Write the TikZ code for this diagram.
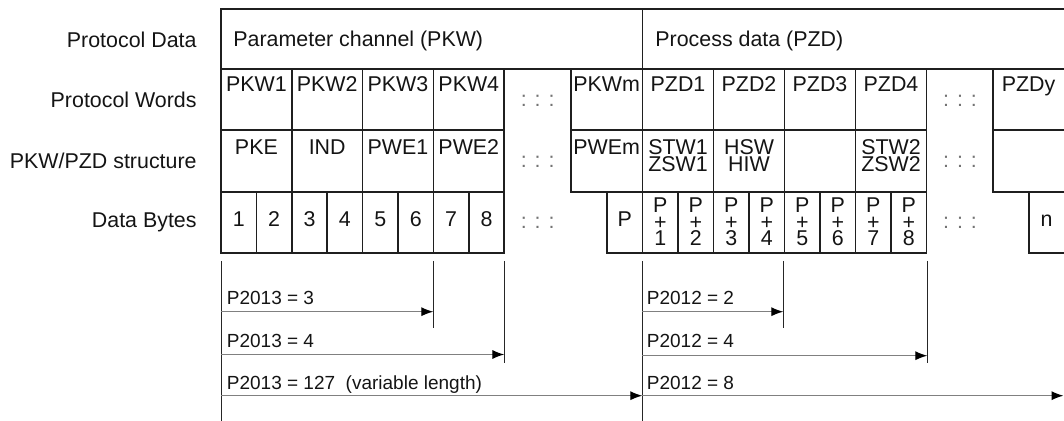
\documentclass[tikz,border=0pt]{standalone}
\usepackage{fontspec}
\setmainfont{Liberation Sans}
\usepackage{tikz}
\usetikzlibrary{positioning,arrows.meta}

\tikzset{
  grid/.style={line width=0.8pt, draw=black!88},
  lbl/.style={font=\fontsize{10.7}{12.8}\selectfont, text=black!92, inner sep=0pt},
  dotrow/.style={font=\fontsize{10.7}{12.8}\selectfont, text=black!55, inner sep=0pt},
  stack/.style={font=\fontsize{10.7}{8.25}\selectfont, text=black!92, inner sep=0pt, align=center},
  pair/.style={font=\fontsize{10.7}{8.5}\selectfont, text=black!92, inner sep=0pt, align=center},
  lenlbl/.style={font=\fontsize{9.5}{11}\selectfont, text=black!92, inner sep=0pt, anchor=base west},
  guide/.style={line width=0.5pt, draw=black!85},
  span/.style={line width=0.65pt, draw=black!50, -{Latex[length=6pt,width=4.6pt,color=black]}}
}

\begin{document}
\begin{tikzpicture}[x=0.5pt, y=-0.5pt]

\useasboundingbox (0,0) rectangle (1064,421);
\clip (0,0) rectangle (1064,421);

% Row labels
\node[lbl, anchor=east] (lab-data) at (197,40) {Protocol Data};
\node[lbl, anchor=east] (lab-words) at (197,99.5) {Protocol Words};
\node[lbl, anchor=east] (lab-struct) at (197,161) {PKW/PZD structure};
\node[lbl, anchor=east] (lab-bytes) at (197,222) {Data Bytes};

% Protocol data
\draw[grid] (221,9) rectangle (642.5,69);
\draw[grid] (642.5,9) rectangle (1075,69);
\node[lbl, anchor=base west] (pkw) at (233,47) {Parameter channel (PKW)};
\node[lbl, anchor=base west] (pzd) at (655,47) {Process data (PZD)};

% Parameter channel words and structure
\foreach \i/\w/\s in {1/PKW1/PKE, 2/PKW2/IND, 3/PKW3/PWE1, 4/PKW4/PWE2} {
  \draw[grid] ({221+70.8*(\i-1)},69) rectangle ({221+70.8*\i},130);
  \draw[grid] ({221+70.8*(\i-1)},130) rectangle ({221+70.8*\i},192);
  \node[lbl, anchor=base] (kw\i) at ({221+70.8*(\i-0.5)},92) {\w};
  \node[lbl, anchor=base] (ks\i) at ({221+70.8*(\i-0.5)},155) {\s};
}
\draw[grid] (571,69) rectangle (642.5,130);
\draw[grid] (571,130) rectangle (642.5,192);
\node[lbl, anchor=base] (kwm) at (606.7,92) {PKWm};
\node[lbl, anchor=base] (ksm) at (606.7,155) {PWEm};

% Process data words and structure
\foreach \i/\w in {1/PZD1, 2/PZD2, 3/PZD3, 4/PZD4} {
  \draw[grid] ({642.5+71*(\i-1)},69) rectangle ({642.5+71*\i},130);
  \draw[grid] ({642.5+71*(\i-1)},130) rectangle ({642.5+71*\i},192);
  \node[lbl, anchor=base] (zw\i) at ({642.5+71*(\i-0.5)},92) {\w};
}
\node[pair] (zs1) at (678,156) {STW1\\ZSW1};
\node[pair] (zs2) at (749,156) {HSW\\HIW};
\node[pair] (zs4) at (891,156) {STW2\\ZSW2};
\draw[grid] (993,69) rectangle (1075,130);
\draw[grid] (993,130) rectangle (1075,192);
\node[lbl, anchor=base] (zwy) at (1028.5,92) {PZDy};

% Data bytes
\foreach \j in {1,...,8} {
  \draw[grid] ({221+35.4*(\j-1)},192) rectangle ({221+35.4*\j},253);
  \node[lbl, anchor=base] (kb\j) at ({221+35.4*(\j-0.5)},226.5) {\j};
  \draw[grid] ({642.5+35.5*(\j-1)},192) rectangle ({642.5+35.5*\j},253);
  \node[stack] (zb\j) at ({642.5+35.5*(\j-0.5)},221.8) {P\\+\\\j};
}
\draw[grid] (607,192) rectangle (642.5,253);
\node[lbl, anchor=base] (kbp) at (624.7,226.5) {P};
\draw[grid] (1029,192) rectangle (1075,253);
\node[lbl, anchor=base] (zbn) at (1046.5,226.5) {n};

% Gaps
\foreach \r/\y in {w/101, s/162, b/222.5} {
  \node[dotrow] (kdots-\r) at (537.7,\y) {: : :};
  \node[dotrow] (zdots-\r) at (960,\y) {: : :};
}

% Length markers, parameter channel
\coordinate (kL) at (221,261);
\coordinate (k3) at (433.3,261);
\coordinate (k4) at (504.3,261);
\draw[guide] (kL) -- ++(0,165);
\draw[guide] (k3) -- ++(0,67);
\draw[guide] (k4) -- ++(0,102);

\coordinate (ka1) at (221,311.7);
\coordinate (ka2) at (221,354.5);
\coordinate (ka3) at (221,395.7);
\draw[span] (ka1) -- (k3 |- ka1);
\draw[span] (ka2) -- (k4 |- ka2);
\draw[span] (ka3) -- (642.3,395.7);
\node[lenlbl] (kt1) at (226.5,305) {P2013 = 3};
\node[lenlbl] (kt2) at (226.5,348) {P2013 = 4};
\node[lenlbl] (kt3) at (226.5,390) {P2013 = 127\ \ (variable length)};

% Length markers, process data
\coordinate (zL) at (642.3,261);
\coordinate (z2) at (783.3,261);
\coordinate (z4) at (927.3,261);
\draw[guide] (zL) -- ++(0,165);
\draw[guide] (z2) -- ++(0,67);
\draw[guide] (z4) -- ++(0,102);

\coordinate (za1) at (642.3,311.7);
\coordinate (za2) at (642.3,355.7);
\coordinate (za3) at (642.3,395.7);
\draw[span] (za1) -- (z2 |- za1);
\draw[span] (za2) -- (z4 |- za2);
\draw[span] (za3) -- (1063.5,395.7);
\node[lenlbl] (zt1) at (646.5,305) {P2012 = 2};
\node[lenlbl] (zt2) at (646.5,348) {P2012 = 4};
\node[lenlbl] (zt3) at (646.5,390) {P2012 = 8};

\end{tikzpicture}
\end{document}
